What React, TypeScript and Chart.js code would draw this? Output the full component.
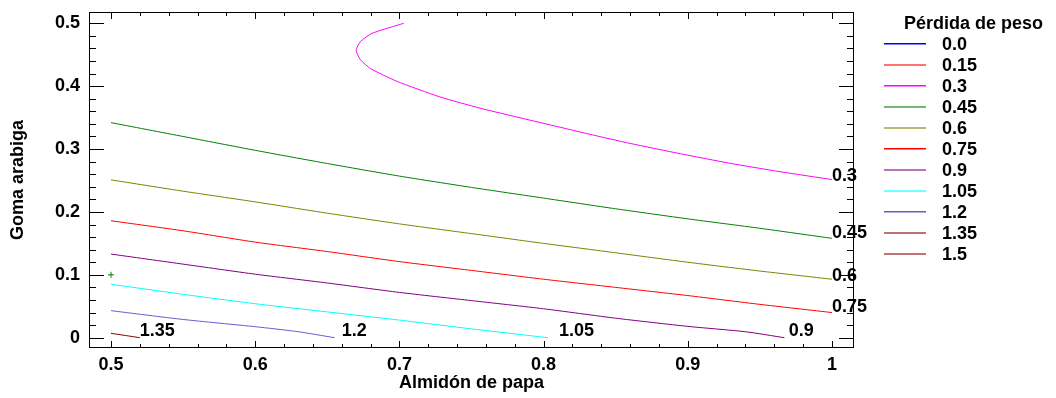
import React, { useEffect, useRef } from 'react';
import { Chart, registerables } from 'chart.js';

Chart.register(...registerables);

// ---------- data ----------
const LEVELS = ['0.0', '0.15', '0.3', '0.45', '0.6', '0.75', '0.9', '1.05', '1.2', '1.35', '1.5'];
const LEVEL_COLORS = ['#0000ff', '#ff0000', '#ff00ff', '#008000', '#808000', '#ff0000', '#800080', '#00ffff', '#6a5acd', '#800000', '#900000'];
const LEGEND_SOFT = [false, true, false, true, true, false, true, true, false, true, true];

const X_TICKS = [0.5, 0.6, 0.7, 0.8, 0.9, 1.0];
const X_TICK_LABELS = ['0.5', '0.6', '0.7', '0.8', '0.9', '1'];
const Y_TICKS = [0, 0.1, 0.2, 0.3, 0.4, 0.5];
const Y_TICK_LABELS = ['0', '0.1', '0.2', '0.3', '0.4', '0.5'];

// contour 0.3
const C030_X = [0.703, 0.681, 0.673, 0.670, 0.673, 0.680, 0.698, 0.728, 0.756, 0.785, 0.810, 0.832, 0.860, 0.895, 0.929, 0.964, 1.0];
const C030_Y = [0.500, 0.484, 0.471, 0.457, 0.442, 0.428, 0.408, 0.383, 0.365, 0.349, 0.3355, 0.3235, 0.309, 0.2925, 0.2775, 0.264, 0.2515];
// contour 0.45
const C045_X = [0.5, 0.55, 0.6, 0.65, 0.7, 0.75, 0.8, 0.85, 0.9, 0.95, 1.0];
const C045_Y = [0.342, 0.320, 0.298, 0.277, 0.257, 0.239, 0.222, 0.205, 0.189, 0.174, 0.158];
// contour 0.6
const C060_X = [0.5, 0.55, 0.6, 0.65, 0.7, 0.75, 0.8, 0.85, 0.9, 0.95, 1.0];
const C060_Y = [0.251, 0.233, 0.216, 0.198, 0.181, 0.1655, 0.150, 0.135, 0.120, 0.106, 0.093];
// contour 0.75
const C075_X = [0.5, 0.55, 0.6, 0.65, 0.7, 0.75, 0.8, 0.85, 0.9, 0.95, 1.0];
const C075_Y = [0.186, 0.170, 0.152, 0.137, 0.121, 0.107, 0.093, 0.080, 0.067, 0.053, 0.040];
// contour 0.9
const C090_X = [0.5, 0.55, 0.6, 0.65, 0.7, 0.75, 0.8, 0.85, 0.9, 0.94, 0.967];
const C090_Y = [0.133, 0.117, 0.101, 0.087, 0.072, 0.059, 0.046, 0.031, 0.018, 0.0095, 0.0];
// contour 1.05
const C105_X = [0.5, 0.55, 0.6, 0.65, 0.7, 0.75, 0.803];
const C105_Y = [0.085, 0.069, 0.054, 0.041, 0.028, 0.014, 0.0];
// contour 1.2
const C120_X = [0.5, 0.55, 0.6, 0.63, 0.655];
const C120_Y = [0.043, 0.029, 0.0175, 0.0095, 0.0];
// contour 1.35
const C135_X = [0.5, 0.520];
const C135_Y = [0.007, 0.0];

// contour labels (text + anchor in data units)
const LABEL_TEXT = ['0.3', '0.45', '0.6', '0.75', '0.9', '1.05', '1.2', '1.35'];
const LABEL_X = [1.0, 1.0, 1.0, 1.0, 0.970, 0.8107, 0.660, 0.520];
const LABEL_Y = [0.257, 0.167, 0.098, 0.049, 0.0099, 0.0099, 0.0099, 0.0099];

// design point marker
const MARKER_X = [0.5];
const MARKER_Y = [0.1];

const X_MIN = 0.48474;
const X_MAX = 1.01526;
const Y_MIN = -0.01638;
const Y_MAX = 0.51797;

const FONT = 'Arial, "Liberation Sans", sans-serif';

const CONTOUR_SERIES: Record<string, [number[], number[]]> = {
  '0.3': [C030_X, C030_Y],
  '0.45': [C045_X, C045_Y],
  '0.6': [C060_X, C060_Y],
  '0.75': [C075_X, C075_Y],
  '0.9': [C090_X, C090_Y],
  '1.05': [C105_X, C105_Y],
  '1.2': [C120_X, C120_Y],
  '1.35': [C135_X, C135_Y],
};

const toPoints = (xs: number[], ys: number[]) => xs.map((x, i) => ({ x, y: ys[i] }));

const frameTicksPlugin = {
  id: 'frameTicks',
  afterDatasetsDraw(chart: any) {
    const { ctx, chartArea } = chart;
    const { left, right, top, bottom } = chartArea;
    const xs = chart.scales.x;
    const ys = chart.scales.y;
    ctx.save();
    ctx.strokeStyle = '#000';
    ctx.lineWidth = 1;
    ctx.beginPath();
    for (let i = 0; i <= 25; i++) {
      const v = 0.5 + i * 0.02;
      const px = Math.round(xs.getPixelForValue(v)) + 0.5;
      const len = i % 5 === 0 ? 7 : 4;
      ctx.moveTo(px, bottom);
      ctx.lineTo(px, bottom - len);
      ctx.moveTo(px, top);
      ctx.lineTo(px, top + len);
    }
    for (let i = 0; i <= 25; i++) {
      const v = i * 0.02;
      const py = Math.round(ys.getPixelForValue(v)) + 0.5;
      const len = i % 5 === 0 ? 15 : 7;
      ctx.moveTo(left, py);
      ctx.lineTo(left + len, py);
      ctx.moveTo(right, py);
      ctx.lineTo(right - len, py);
    }
    ctx.stroke();
    ctx.strokeRect(left + 0.5, top + 0.5, right - left - 1, bottom - top - 1);
    ctx.restore();
  },
};

const labelsLegendPlugin = {
  id: 'labelsLegend',
  afterDraw(chart: any) {
    const { ctx } = chart;
    const xs = chart.scales.x;
    const ys = chart.scales.y;
    ctx.save();
    ctx.fillStyle = '#000';
    ctx.font = `bold 18px ${FONT}`;
    ctx.textBaseline = 'middle';
    ctx.textAlign = 'left';
    LABEL_TEXT.forEach((t, i) => {
      ctx.fillText(t, xs.getPixelForValue(LABEL_X[i]), ys.getPixelForValue(LABEL_Y[i]));
    });

    // side legend
    const lx0 = 884;
    const lx1 = 926;
    ctx.fillText('Pérdida de peso', 904, 24);
    LEVELS.forEach((lvl, i) => {
      const base = Math.round(43 + 21 * i);
      ctx.save();
      ctx.strokeStyle = LEVEL_COLORS[i];
      ctx.beginPath();
      if (LEGEND_SOFT[i]) {
        ctx.globalAlpha = 0.55;
        ctx.lineWidth = 2;
        ctx.moveTo(lx0, base + 1);
        ctx.lineTo(lx1, base + 1);
      } else {
        ctx.lineWidth = 1.4;
        ctx.moveTo(lx0, base + 0.7);
        ctx.lineTo(lx1, base + 0.7);
      }
      ctx.stroke();
      ctx.restore();
      ctx.fillStyle = '#000';
      ctx.fillText(lvl, 942, base + 2);
    });
    ctx.restore();
  },
};

export default function App() {
  const ref = useRef<HTMLCanvasElement>(null);
  useEffect(() => {
    document.body.style.margin = '0';
    const datasets: any[] = LEVELS.map((lvl, i) => {
      const s = CONTOUR_SERIES[lvl];
      return {
        label: lvl,
        data: s ? toPoints(s[0], s[1]) : [],
        borderColor: LEVEL_COLORS[i],
        backgroundColor: LEVEL_COLORS[i],
        borderWidth: 1,
        showLine: true,
        pointRadius: 0,
        tension: 0.2,
        fill: false,
      };
    });
    datasets.push({
      label: 'punto',
      data: toPoints(MARKER_X, MARKER_Y),
      borderColor: '#008000',
      backgroundColor: '#008000',
      borderWidth: 1,
      showLine: false,
      pointStyle: 'cross',
      pointRadius: 3,
    });
    const chart = new Chart(ref.current as HTMLCanvasElement, {
      type: 'scatter',
      data: { datasets },
      options: {
        animation: false,
        responsive: false,
        devicePixelRatio: 1,
        layout: { padding: { top: 12, right: 202, bottom: 0, left: 0 } },
        plugins: { legend: { display: false }, tooltip: { enabled: false } },
        scales: {
          x: {
            type: 'linear',
            min: X_MIN,
            max: X_MAX,
            grid: { display: false, drawTicks: false },
            border: { display: false },
            afterBuildTicks: (axis: any) => {
              axis.ticks = X_TICKS.map((v) => ({ value: v }));
            },
            afterFit: (s: any) => {
              s.height = 50;
              s.paddingLeft = 0;
              s.paddingRight = 0;
            },
            ticks: {
              padding: 6,
              color: '#000',
              maxRotation: 0,
              autoSkip: false,
              font: { family: FONT, size: 18, weight: 'bold' },
              callback: (_v: any, i: number) => X_TICK_LABELS[i],
            },
            title: {
              display: true,
              text: 'Almidón de papa',
              color: '#000',
              font: { family: FONT, size: 18, weight: 'bold' },
              padding: { top: 0, bottom: 4 },
            },
          },
          y: {
            type: 'linear',
            min: Y_MIN,
            max: Y_MAX,
            grid: { display: false, drawTicks: false },
            border: { display: false },
            afterBuildTicks: (axis: any) => {
              axis.ticks = Y_TICKS.map((v) => ({ value: v }));
            },
            afterFit: (s: any) => {
              s.width = 89;
              s.paddingTop = 0;
              s.paddingBottom = 0;
            },
            ticks: {
              padding: 9,
              color: '#000',
              autoSkip: false,
              font: { family: FONT, size: 18, weight: 'bold' },
              callback: (_v: any, i: number) => Y_TICK_LABELS[i],
            },
            title: {
              display: true,
              text: 'Goma arabiga',
              color: '#000',
              font: { family: FONT, size: 18, weight: 'bold' },
              padding: { top: 7, bottom: 0 },
            },
          },
        },
      } as any,
      plugins: [frameTicksPlugin, labelsLegendPlugin],
    });
    return () => chart.destroy();
  }, []);
  return (
    <div style={{ width: 1056, height: 398, overflow: 'hidden' }}>
      <canvas ref={ref} width={1056} height={398} style={{ display: 'block' }} />
    </div>
  );
}
